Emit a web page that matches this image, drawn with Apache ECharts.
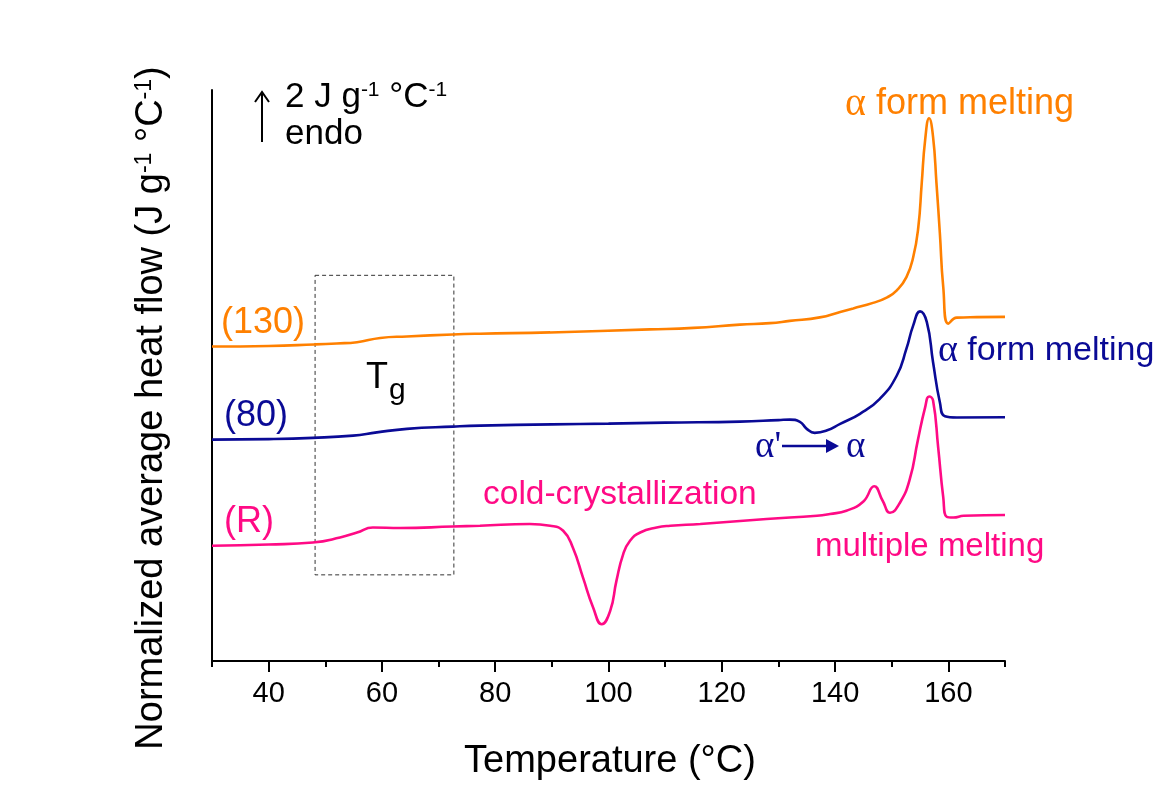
<!DOCTYPE html>
<html>
<head>
<meta charset="utf-8">
<title>DSC heat flow curves</title>
<script src="https://cdn.jsdelivr.net/npm/echarts@6/dist/echarts.min.js"></script>
<style>
  html, body { margin: 0; padding: 0; background: #fff; }
  #chart { width: 1156px; height: 789px; }
</style>
</head>
<body>
<div id="chart"></div>
<script>
// Temperature axis ticks (°C)
const MAJOR_TICKS = [40, 60, 80, 100, 120, 140, 160];
const MINOR_TICKS = [30, 50, 70, 90, 110, 130, 150, 170];

// Normalized heat flow curves, [temperature °C, heat flow J g-1 °C-1 (stacked offsets)]
const curve130 = [
  [30, 12.56], [40, 12.58], [48, 12.64], [52, 12.68], [55.6, 12.73], [59.7, 12.9],
  [64.4, 12.96], [72.5, 13.04], [77.3, 13.07], [89.7, 13.12], [107.3, 13.24], [115, 13.3],
  [123.2, 13.43], [128.5, 13.49], [132, 13.58], [137.3, 13.72], [140.9, 13.94], [143.2, 14.08],
  [146.7, 14.3], [149.2, 14.52], [150.9, 14.8], [152.6, 15.33], [153.8, 16.13], [154.7, 17.33],
  [155.3, 19.08], [155.9, 20.8], [156.6, 21.67], [157.3, 20.93], [157.9, 19.08], [158.5, 17.08],
  [159.1, 14.93], [160.0, 13.47], [161.5, 13.71], [165, 13.73], [170, 13.74]
];
const curve80 = [
  [30, 8.84], [40, 8.86], [47.8, 8.91], [54.9, 9.0], [59.1, 9.13], [64.4, 9.27], [72.5, 9.36],
  [77.3, 9.4], [90, 9.45], [100, 9.48], [110, 9.52], [123.2, 9.56], [130, 9.62], [132, 9.64],
  [133.8, 9.55], [135, 9.27], [136.4, 9.11], [138.5, 9.2], [140.9, 9.47], [144.4, 9.87],
  [147.9, 10.47], [150.9, 11.4], [152.6, 12.47], [153.8, 13.4], [155.0, 13.96], [156.2, 13.53],
  [157.3, 11.93], [158.5, 10.33], [159.4, 9.77], [161.5, 9.72], [170, 9.73]
];
const curveR = [
  [30, 4.6], [40, 4.65], [47.8, 4.73], [52.6, 4.93], [55.6, 5.13], [58.4, 5.33], [63.2, 5.31],
  [72.5, 5.37], [77.3, 5.4], [86.1, 5.47], [89.7, 5.4], [92.0, 5.2], [93.7, 4.53], [95.5, 3.33],
  [97.3, 2.13], [98.8, 1.47], [100.3, 2.0], [101.4, 3.2], [102.6, 4.27], [103.8, 4.8],
  [105.6, 5.13], [108.5, 5.33], [110.9, 5.4], [116.2, 5.47], [127.9, 5.67], [136.8, 5.8],
  [139.1, 5.87], [142.0, 6.0], [145.0, 6.37], [146.9, 6.98], [148.4, 6.4], [149.7, 5.92],
  [151.4, 6.3], [153.2, 7.27], [154.6, 8.8], [155.9, 10.13], [156.6, 10.56], [157.3, 10.4],
  [158.2, 8.53], [159.1, 6.53], [159.7, 5.76], [160.9, 5.73], [162.7, 5.8], [170, 5.83]
];

// Glass transition window (°C range, heat flow range)
const TG_WINDOW_T = [48.2, 72.7];
const TG_WINDOW_Y = [3.44, 15.4];

const ORANGE = '#FF8000';
const NAVY = '#0A0A96';
const PINK = '#FF0A85';
const FONT = '"Liberation Sans", Arial, sans-serif';
const GREEK = '"Liberation Serif", "DejaVu Serif", serif';

const chart = echarts.init(document.getElementById('chart'), null, { renderer: 'canvas' });

function curveSeries(name, data, color) {
  return {
    name, type: 'line', data, smooth: 0.5,
    showSymbol: false, symbol: 'none',
    lineStyle: { color, width: 2.6 }, z: 3
  };
}

const supStyle = (size, pad) => ({ fontSize: size, fontFamily: FONT, verticalAlign: 'top', padding: [0, 0, pad, 0] });

const seriesR = curveSeries('R', curveR, PINK);
seriesR.markArea = {
  silent: true,
  itemStyle: { color: 'rgba(0,0,0,0)', borderColor: '#333', borderWidth: 1, borderType: [4, 3] },
  data: [[
    { xAxis: TG_WINDOW_T[0], yAxis: TG_WINDOW_Y[1] },
    { xAxis: TG_WINDOW_T[1], yAxis: TG_WINDOW_Y[0] }
  ]]
};

const option = {
  backgroundColor: '#ffffff',
  animation: false,
  grid: { left: 212, right: 151, top: 90, bottom: 128, containLabel: false },
  xAxis: [
    {
      type: 'value', min: 30, max: 170, interval: 10,
      axisLine: { onZero: false, lineStyle: { color: '#000', width: 2 } },
      axisTick: { customValues: MAJOR_TICKS, length: 11, lineStyle: { color: '#000', width: 2 } },
      axisLabel: { customValues: MAJOR_TICKS, fontSize: 29, color: '#000', fontFamily: FONT, margin: 18 },
      splitLine: { show: false }
    },
    {
      type: 'value', min: 30, max: 170, position: 'bottom',
      axisLine: { show: false },
      axisTick: { customValues: MINOR_TICKS, length: 6, lineStyle: { color: '#000', width: 2 } },
      axisLabel: { show: false },
      splitLine: { show: false }
    }
  ],
  yAxis: {
    type: 'value', min: 0, max: 22.8,
    axisLine: { show: true, onZero: false, lineStyle: { color: '#000', width: 2 } },
    axisTick: { show: false },
    axisLabel: { show: false },
    splitLine: { show: false }
  },
  series: [
    curveSeries('130', curve130, ORANGE),
    curveSeries('80', curve80, NAVY),
    seriesR
  ],
  graphic: [
    // axis titles
    {
      type: 'text', x: 610, y: 762,
      style: { text: 'Temperature (°C)', font: '38px ' + FONT, fill: '#000', align: 'center', verticalAlign: 'middle' }
    },
    {
      type: 'text', x: 152, y: 408, rotation: Math.PI / 2,
      style: {
        text: '{a|Normalized average heat flow (J g}{s|-1}{a| °C}{s|-1}{a|)}',
        fill: '#000', align: 'center', verticalAlign: 'middle',
        rich: { a: { fontSize: 38, fontFamily: FONT }, s: supStyle(23, 12) }
      }
    },
    // scale bar
    {
      type: 'line', shape: { x1: 262, y1: 142, x2: 262, y2: 94 },
      style: { stroke: '#000', lineWidth: 2 }
    },
    {
      type: 'polyline', shape: { points: [[255, 102], [262, 92], [269, 102]] },
      style: { stroke: '#000', lineWidth: 2, fill: null }
    },
    {
      type: 'text', x: 285, y: 97,
      style: {
        text: '{a|2 J g}{s|-1}{a| °C}{s|-1}', fill: '#000', verticalAlign: 'middle',
        rich: { a: { fontSize: 35, fontFamily: FONT }, s: supStyle(21, 10) }
      }
    },
    {
      type: 'text', x: 285, y: 134,
      style: { text: 'endo', font: '35px ' + FONT, fill: '#000', verticalAlign: 'middle' }
    },
    // curve labels
    { type: 'text', x: 221, y: 323, style: { text: '(130)', font: '36px ' + FONT, fill: ORANGE, verticalAlign: 'middle' } },
    { type: 'text', x: 224, y: 416, style: { text: '(80)', font: '36px ' + FONT, fill: NAVY, verticalAlign: 'middle' } },
    { type: 'text', x: 224, y: 522, style: { text: '(R)', font: '36px ' + FONT, fill: PINK, verticalAlign: 'middle' } },
    // Tg
    { type: 'text', x: 366, y: 378, style: { text: 'T', font: '36px ' + FONT, fill: '#000', verticalAlign: 'middle' } },
    { type: 'text', x: 389, y: 391, style: { text: 'g', font: '30px ' + FONT, fill: '#000', verticalAlign: 'middle' } },
    // transition annotations
    {
      type: 'text', x: 845, y: 104,
      style: {
        text: '{g|α}{a| form melting}', fill: ORANGE, verticalAlign: 'middle',
        rich: { g: { fontSize: 40, fontFamily: GREEK }, a: { fontSize: 36, fontFamily: FONT } }
      }
    },
    {
      type: 'text', x: 938, y: 351,
      style: {
        text: '{g|α}{a| form melting}', fill: NAVY, verticalAlign: 'middle',
        rich: { g: { fontSize: 38, fontFamily: GREEK }, a: { fontSize: 34, fontFamily: FONT } }
      }
    },
    {
      type: 'text', x: 755, y: 447,
      style: { text: "α'", font: '37px ' + GREEK, fill: NAVY, verticalAlign: 'middle' }
    },
    {
      type: 'line', shape: { x1: 782, y1: 446, x2: 830, y2: 446 },
      style: { stroke: NAVY, lineWidth: 2.5 }
    },
    {
      type: 'polygon', shape: { points: [[826, 439], [839, 446], [826, 453]] },
      style: { fill: NAVY }
    },
    {
      type: 'text', x: 846, y: 447,
      style: { text: 'α', font: '37px ' + GREEK, fill: NAVY, verticalAlign: 'middle' }
    },
    { type: 'text', x: 483, y: 495, style: { text: 'cold-crystallization', font: '33.5px ' + FONT, fill: PINK, verticalAlign: 'middle' } },
    { type: 'text', x: 815, y: 547, style: { text: 'multiple melting', font: '33px ' + FONT, fill: PINK, verticalAlign: 'middle' } }
  ]
};

chart.setOption(option);
</script>
</body>
</html>
